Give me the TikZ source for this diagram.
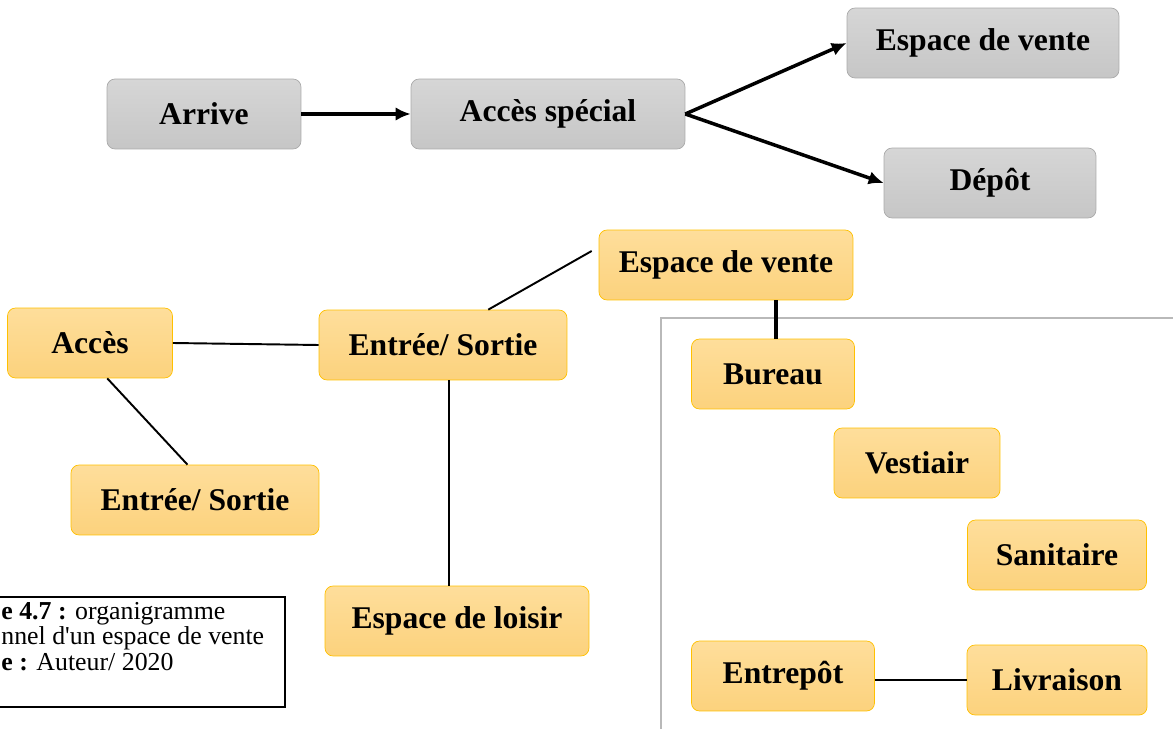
\documentclass[tikz,border=0pt]{standalone}
\usepackage{fontspec}
\setmainfont{Liberation Serif}[Ligatures=TeXOff]
\usetikzlibrary{arrows.meta}

\definecolor{grisfond}{RGB}{198,198,198}
\definecolor{grishaut}{RGB}{214,214,214}
\definecolor{grisbord}{RGB}{170,170,170}
\definecolor{orfond}{RGB}{252,210,125}
\definecolor{orhaut}{RGB}{254,222,155}
\definecolor{orbord}{RGB}{255,192,0}
\definecolor{cadre}{RGB}{185,185,185}

\begin{document}
\begin{tikzpicture}[x=0.02cm, y=-0.02cm,
	etape/.style = {draw=grisbord, rounded corners=0.16cm, top color=grishaut, bottom color=grisfond, minimum height=1.4cm, font=\fontsize{18}{21}\selectfont\bfseries},
	zone/.style = {draw=orbord, rounded corners=0.16cm, top color=orhaut, bottom color=orfond, minimum height=1.4cm, font=\fontsize{18}{21}\selectfont\bfseries},
	flow/.style = {-{Latex[length=0.3cm, width=0.27cm]}, line width=2pt},
	link/.style = {line width=1.1pt},
	trunk/.style = {line width=2pt}]
	\useasboundingbox (0,0) rectangle (1173,729);
	% panneau gris a droite
	\draw[cadre, line width=0.8pt] (661,740) |- (1185,318);
	% schema du haut
	\node[etape, minimum width=3.88cm] (1) at (204,114) {Arrive};
	\node[etape, minimum width=5.48cm] (2) at (548,114) {Accès spécial};
	\node[etape, minimum width=5.44cm] (3) at (983,43) {Espace de vente};
	\node[etape, minimum width=4.24cm] (4) at (990,183) {Dépôt};
	\draw[flow] (1) -- (2);
	\draw[flow] (2.east) -- (3.west);
	\draw[flow] (2.east) -- (4.west);
	% organigramme
	\node[zone, minimum width=5.08cm] (ev) at (726,265) {Espace de vente};
	\node[zone, minimum width=4.96cm] (es1) at (443,345) {Entrée/ Sortie};
	\node[zone, minimum width=3.3cm] (acc) at (90,343) {Accès};
	\node[zone, minimum width=4.96cm] (es2) at (195,500) {Entrée/ Sortie};
	\node[zone, minimum width=5.28cm] (loisir) at (457,621) {Espace de loisir};
	\node[zone, minimum width=3.26cm] (bureau) at (773,374) {Bureau};
	\node[zone, minimum width=3.32cm] (vest) at (917,463) {Vestiair};
	\node[zone, minimum width=3.58cm] (sani) at (1057,555) {Sanitaire};
	\node[zone, minimum width=3.66cm] (entre) at (783,676) {Entrepôt};
	\node[zone, minimum width=3.6cm] (livr) at (1057,680) {Livraison};
	\draw[link] (es1.38) -- ([shift={(-7,-14)}]ev.west);
	\draw[link] (acc.east) -- (es1.west);
	\draw[link] (acc.-64) -- (es2.102);
	\draw[link] ([xshift=0.12cm]es1.south) -- ([xshift=0.12cm]es1.south |- loisir.north);
	\draw[trunk] ([xshift=0.06cm]bureau.north) -- ([xshift=0.06cm]bureau.north |- ev.south);
	\draw[link] (livr.west -| entre.east) -- (livr.west);
	% legende
	\draw[line width=1.5pt] (-10,597) rectangle (285,707);
	\node[anchor=north west, align=left, inner sep=0pt, font=\fontsize{14.7}{14.4}\selectfont] (legende) at (1,602)
		{\textbf{e 4.7 :} organigramme\\ nnel d'un espace de vente\\ \textbf{e :} Auteur/ 2020};
\end{tikzpicture}
\end{document}
